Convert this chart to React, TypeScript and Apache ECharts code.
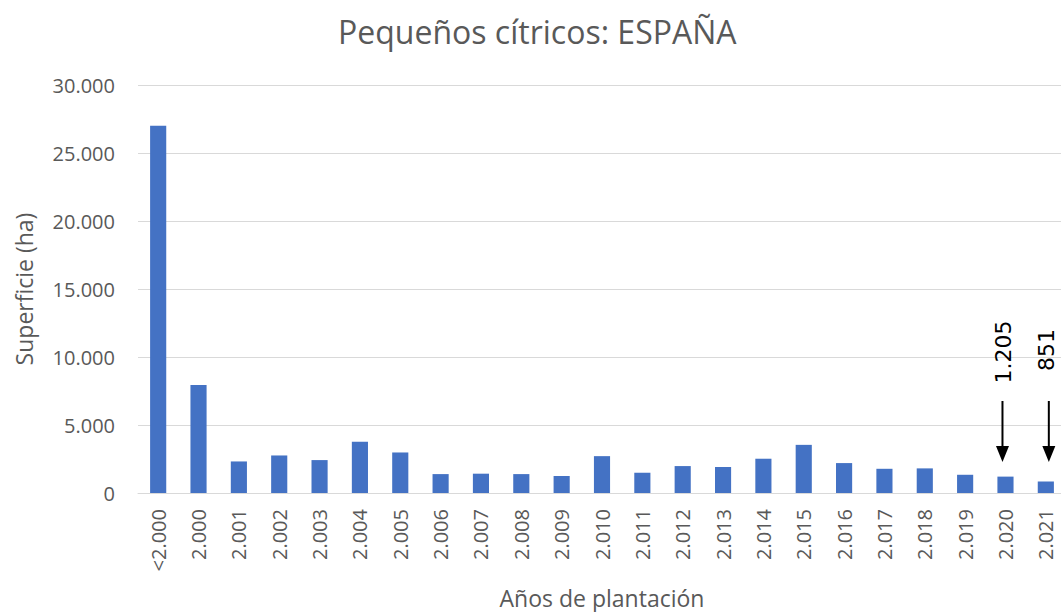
import React, { useEffect, useRef } from "react";
import * as echarts from "echarts";

const categories = [
  "<2.000", "2.000", "2.001", "2.002", "2.003", "2.004", "2.005", "2.006",
  "2.007", "2.008", "2.009", "2.010", "2.011", "2.012", "2.013", "2.014",
  "2.015", "2.016", "2.017", "2.018", "2.019", "2.020", "2.021",
];
const superficie = [
  27000, 7950, 2320, 2760, 2420, 3760, 2980, 1390,
  1420, 1390, 1250, 2710, 1490, 1980, 1910, 2520,
  3540, 2200, 1780, 1810, 1340, 1205, 851,
];
const annotations = [
  { category: "2.020", label: "1.205", dx: -3, tdx: 1, ty: 352 },
  { category: "2.021", label: "851", dx: 3, tdx: -2, ty: 350 },
];

const fmt = (v: number) =>
  String(Math.round(v)).replace(/\B(?=(\d{3})+(?!\d))/g, ".");

export default function App() {
  const ref = useRef<HTMLDivElement>(null);
  useEffect(() => {
    if (!ref.current) return;
    const chart = echarts.init(ref.current, undefined, { renderer: "svg" });
    const font = "'Open Sans', 'Noto Sans', sans-serif";
    chart.setOption({
      animation: false,
      title: {
        text: "Pequeños cítricos: ESPAÑA",
        left: 333,
        top: 10,
        textStyle: { fontFamily: font, fontSize: 32, fontWeight: "normal", color: "#595959" },
      },
      grid: {
        left: 138,
        right: -5,
        top: 85,
        bottom: 119,
        containLabel: false,
        outerBoundsMode: "none",
      },
      xAxis: {
        type: "category",
        data: categories,
        name: "Años de plantación",
        nameLocation: "middle",
        nameGap: 93,
        nameTextStyle: { fontFamily: font, fontSize: 23, color: "#595959" },
        axisLine: { show: true, lineStyle: { color: "#D9D9D9", width: 1 } },
        axisTick: { show: false },
        axisLabel: {
          rotate: 90,
          interval: 0,
          margin: 16,
          fontFamily: font,
          fontSize: 20,
          color: "#595959",
        },
      },
      yAxis: {
        type: "value",
        min: 0,
        max: 30000,
        interval: 5000,
        name: "Superficie (ha)",
        nameLocation: "middle",
        nameGap: 103,
        nameTextStyle: { fontFamily: font, fontSize: 23, color: "#595959" },
        axisLine: { show: false },
        axisTick: { show: false },
        splitLine: { lineStyle: { color: "#D9D9D9", width: 1 } },
        axisLabel: {
          margin: 23,
          fontFamily: font,
          fontSize: 20,
          color: "#595959",
          formatter: (v: number) => fmt(v),
        },
      },
      series: [
        {
          type: "bar",
          data: superficie,
          barWidth: "40%",
          itemStyle: { color: "#4472C4" },
        },
      ],
    });

    const elements: any[] = [];
    annotations.forEach((a) => {
      const idx = categories.indexOf(a.category);
      const [px] = chart.convertToPixel({ gridIndex: 0 }, [idx, 0]) as number[];
      const x = px + a.dx;
      const yTop = 401;
      const yTip = 462;
      elements.push({
        type: "line",
        shape: { x1: x, y1: yTop, x2: x, y2: yTip - 14 },
        style: { stroke: "#000", lineWidth: 2 },
      });
      elements.push({
        type: "polygon",
        shape: { points: [[x - 6.5, yTip - 16], [x + 6.5, yTip - 16], [x, yTip]] },
        style: { fill: "#000" },
      });
      elements.push({
        type: "text",
        x: x + a.tdx,
        y: a.ty,
        rotation: Math.PI / 2,
        style: {
          text: a.label,
          fontFamily: "'DejaVu Sans', sans-serif",
          fontSize: 22,
          fill: "#000",
          align: "center",
          verticalAlign: "middle",
        },
      });
    });
    chart.setOption({ graphic: { elements } });

    return () => chart.dispose();
  }, []);
  return (
    <div
      ref={ref}
      style={{ position: "fixed", left: 0, top: 0, width: 1061, height: 612, background: "#fff" }}
    />
  );
}
